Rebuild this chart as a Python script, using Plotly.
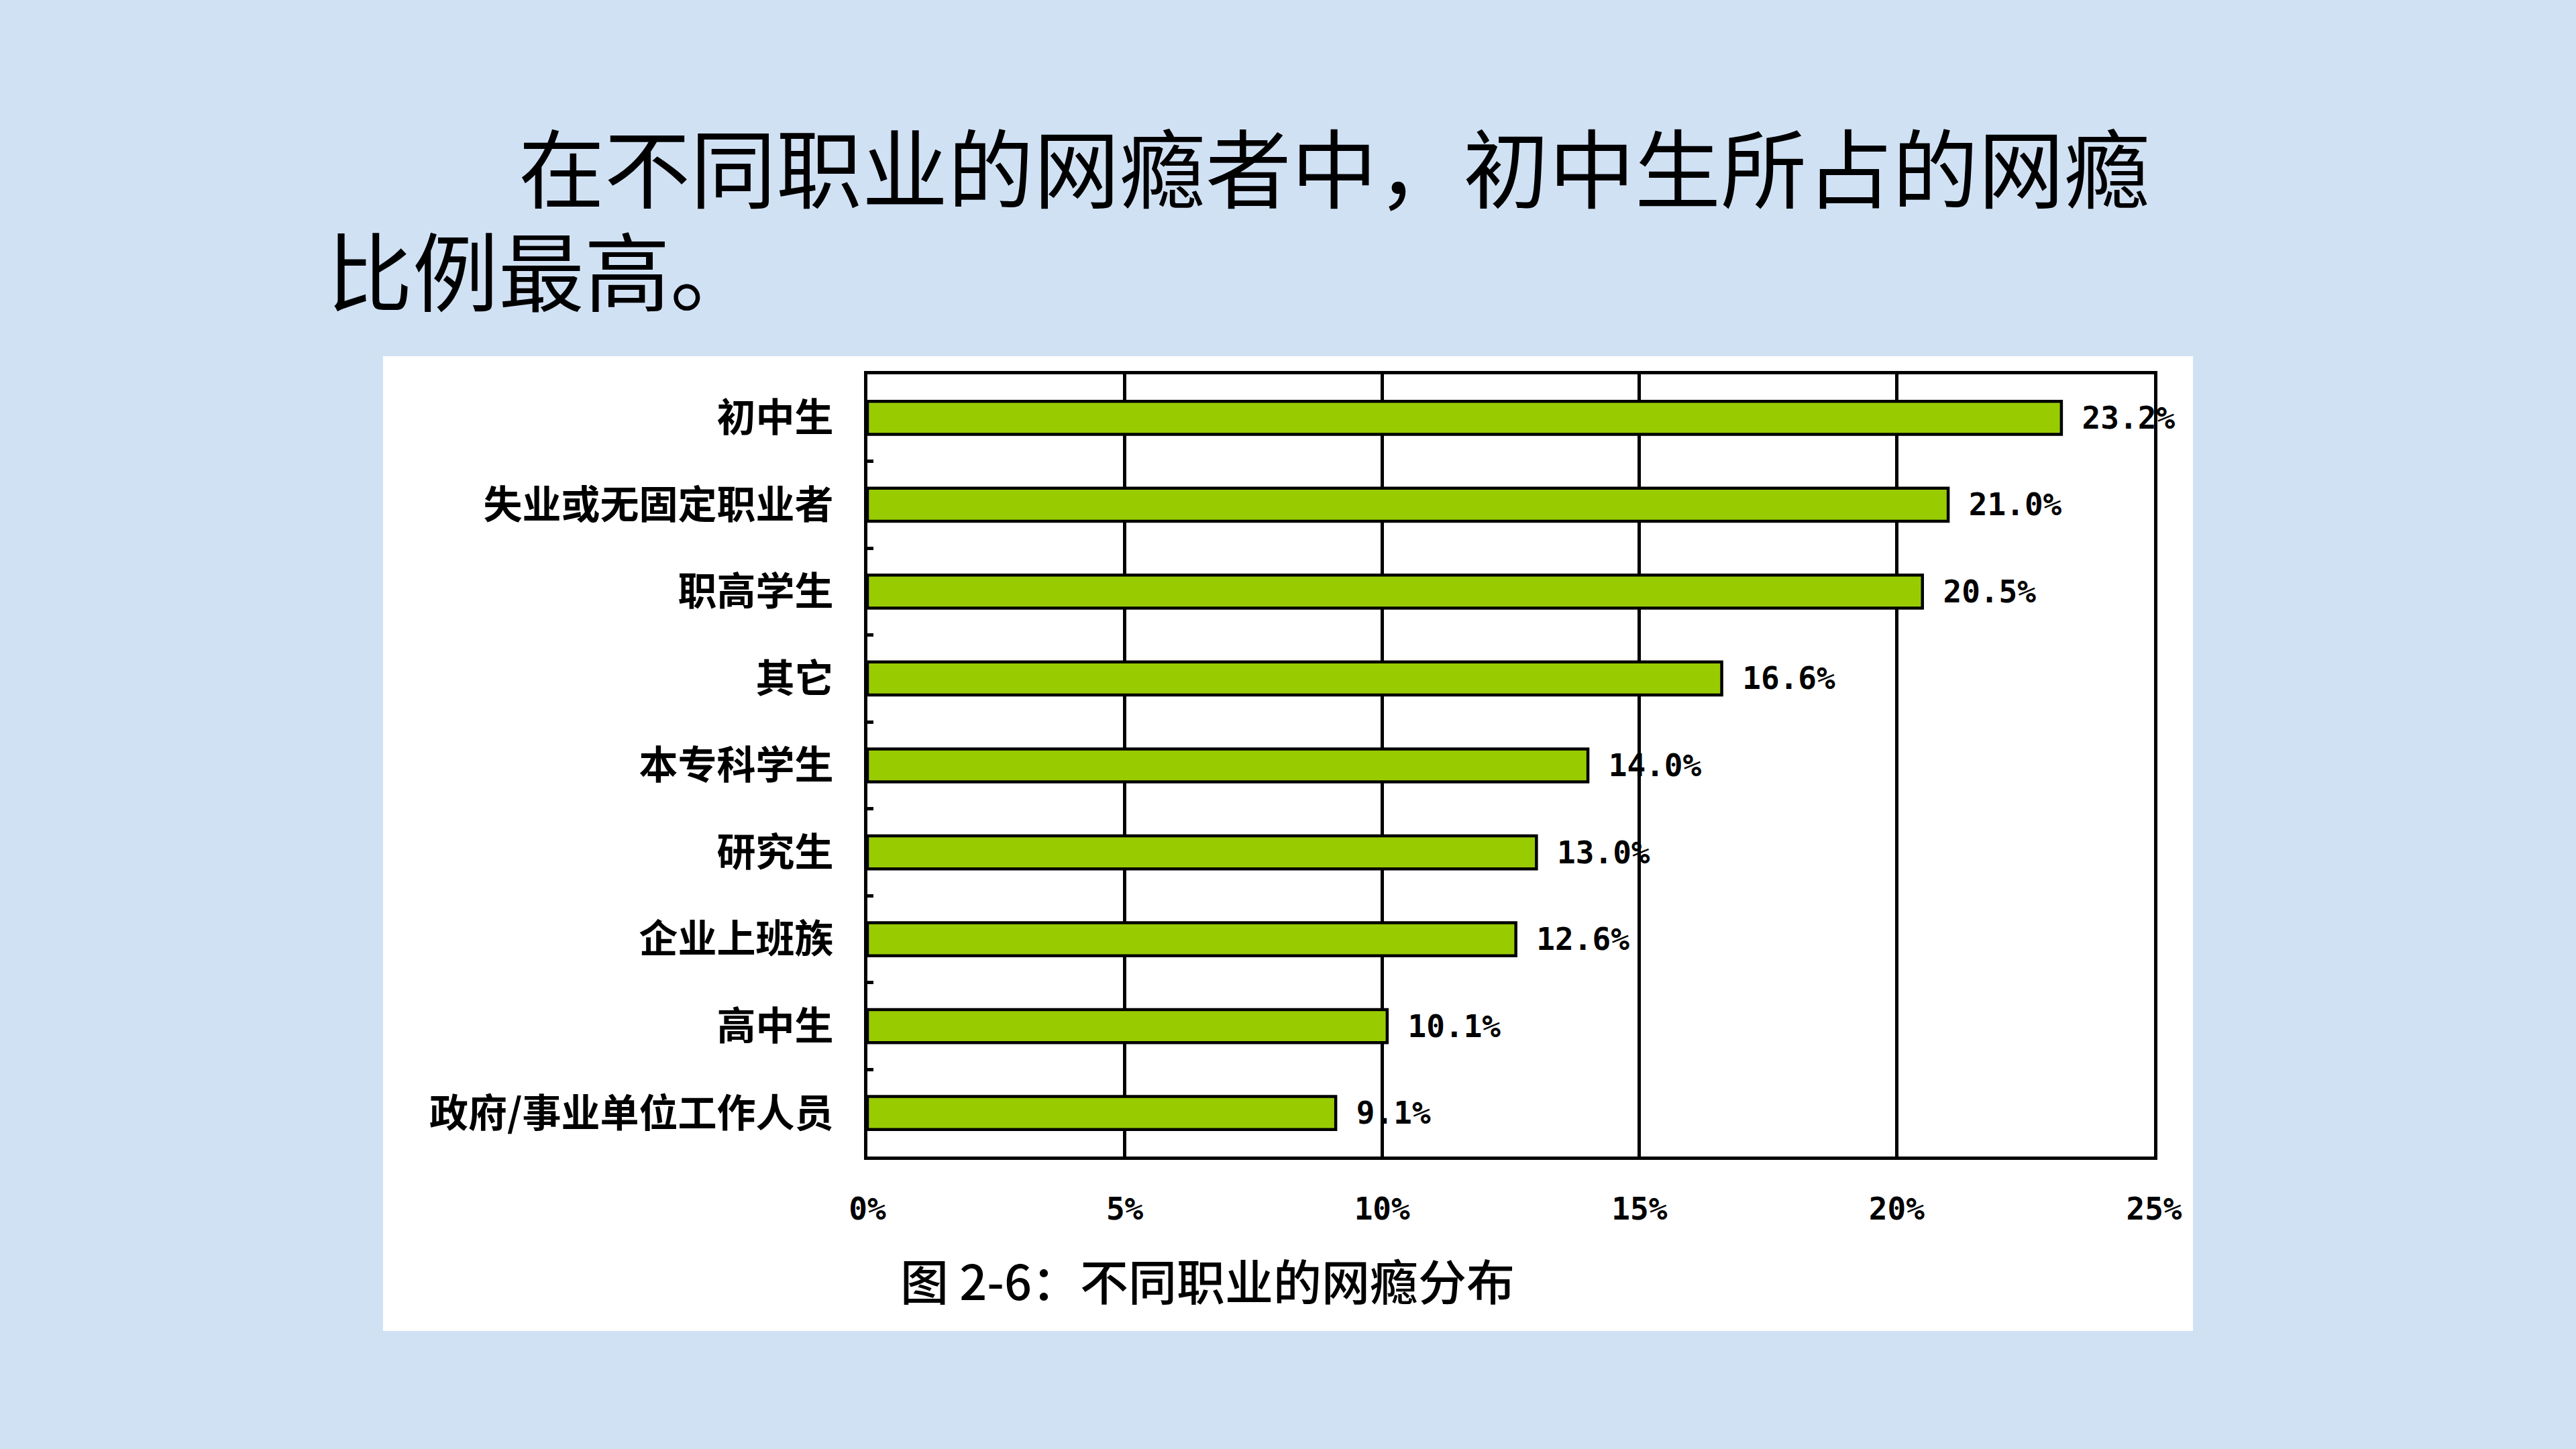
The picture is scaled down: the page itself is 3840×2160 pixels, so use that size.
import plotly.graph_objects as go

categories = ["初中生", "失业或无固定职业者", "职高学生", "其它", "本专科学生",
              "研究生", "企业上班族", "高中生", "政府/事业单位工作人员"]
values = [23.2, 21.0, 20.5, 16.6, 14.0, 13.0, 12.6, 10.1, 9.1]
x_ticks = [0, 5, 10, 15, 20, 25]
x_tick_labels = ["0%", "5%", "10%", "15%", "20%", "25%"]
title_line1 = "在不同职业的网瘾者中，初中生所占的网瘾"
title_line2 = "比例最高。"
caption = "图 2-6：不同职业的网瘾分布"

W, H = 3840, 2160

def px(x):
    return x / W

def py(y):
    return 1 - y / H

fig = go.Figure()
fig.add_trace(go.Bar(
    y=categories, x=values, orientation="h",
    marker=dict(color="#99CC00", line=dict(color="black", width=4.5)),
    width=0.38,
    texttemplate="\u00a0%{x:.1f}%",
    textposition="outside",
    textfont=dict(family="DejaVu Sans Mono", size=46, color="black", weight="bold"),
    constraintext="none",
    cliponaxis=False,
    showlegend=False,
))

fig.update_layout(
    width=W, height=H, autosize=False,
    margin=dict(l=0, r=0, t=0, b=0, autoexpand=False),
    paper_bgcolor="#D1E1F4",
    plot_bgcolor="white",
    xaxis=dict(
        domain=[px(1293), px(3211)],
        range=[0, 25],
        tickvals=x_ticks,
        ticktext=x_tick_labels,
        showgrid=True, gridcolor="black", gridwidth=4.5,
        zeroline=False,
        showline=True, linecolor="black", linewidth=5, mirror=True,
        ticks="",
        automargin=False,
        ticklabelstandoff=34,
        tickfont=dict(family="DejaVu Sans Mono", size=46, color="black", weight="bold"),
    ),
    yaxis=dict(
        domain=[py(1724), py(558)],
        type="category",
        categoryorder="array", categoryarray=categories,
        range=[8.5, -0.5],
        showgrid=False, zeroline=False,
        showline=True, linecolor="black", linewidth=5, mirror=True,
        ticks="inside", ticklen=9, tickwidth=5, tickcolor="black",
        tickson="boundaries",
        automargin=False,
        ticklabelstandoff=34,
        tickfont=dict(family="Noto Sans CJK SC", size=58, color="black", weight="bold"),
    ),
    shapes=[dict(
        type="rect", xref="paper", yref="paper",
        x0=px(571), x1=px(3269), y0=py(1984), y1=py(531),
        fillcolor="white", line=dict(width=0), layer="below",
    )],
    annotations=[
        dict(text=title_line1, xref="paper", yref="paper",
             x=px(771), y=py(245), xanchor="left", yanchor="middle",
             showarrow=False,
             font=dict(family="Noto Sans CJK SC", size=128, color="black")),
        dict(text=title_line2, xref="paper", yref="paper",
             x=px(485), y=py(400), xanchor="left", yanchor="middle",
             showarrow=False,
             font=dict(family="Noto Sans CJK SC", size=128, color="black")),
        dict(text=caption, xref="paper", yref="paper",
             x=px(1340), y=py(1906), xanchor="left", yanchor="middle",
             showarrow=False,
             font=dict(family="Noto Sans CJK SC", size=72, color="black", weight=500)),
    ],
)

fig.write_html(
    "out.html",
    config={"responsive": False},
    default_width="3840px",
    default_height="2160px",
    post_script="document.body.style.margin='0';document.body.style.overflow='hidden';",
)
